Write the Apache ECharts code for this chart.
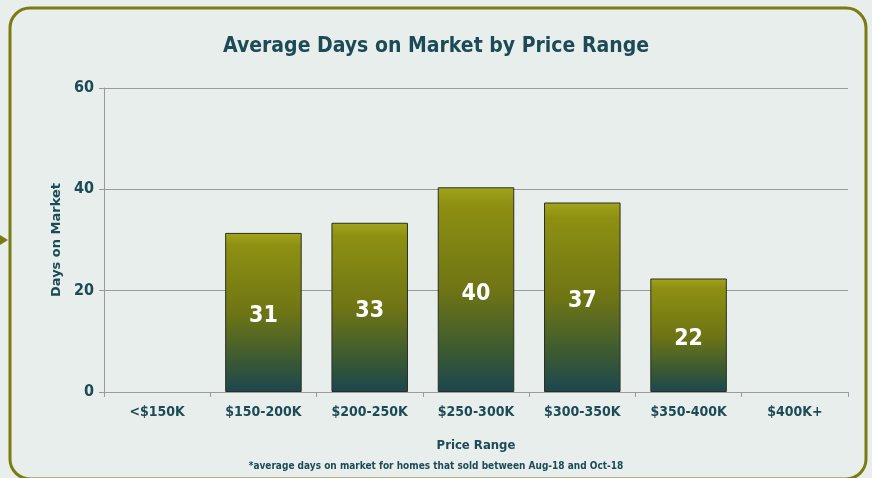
<!DOCTYPE html>
<html>
<head>
<meta charset="utf-8">
<script src="https://cdn.jsdelivr.net/npm/echarts@6/dist/echarts.min.js"></script>
<style>
  html, body { margin: 0; padding: 0; background: #e8eeec; }
  #main { width: 872px; height: 478px; }
</style>
</head>
<body>
<div id="main"></div>
<script>
// price buckets and avg days on market
var categories = ['<$150K', '$150-200K', '$200-250K', '$250-300K', '$300-350K', '$350-400K', '$400K+'];
var daysOnMarket = [null, 31.4, 33.4, 40.4, 37.4, 22.4, null];
var yTicks = [0, 20, 40, 60];

var font = "'DejaVu Sans Condensed', 'Liberation Sans Narrow', sans-serif";
var teal = '#1c4a56';

var chart = echarts.init(document.getElementById('main'));

var option = {
    backgroundColor: '#e8eeec',
    animation: false,
    title: {
        text: 'Average Days on Market by Price Range',
        left: 'center',
        top: 31,
        textStyle: { fontFamily: font, fontSize: 21, fontWeight: 'bold', color: teal }
    },
    graphic: [
        {
            type: 'rect',
            shape: { x: 10, y: 8, width: 856, height: 471, r: 20 },
            style: { fill: 'transparent', stroke: '#7b7b12', lineWidth: 3 },
            z: -1
        },
        {
            type: 'polygon',
            shape: { points: [[0, 235], [8, 240], [0, 245]] },
            style: { fill: '#7b7b12' }
        },
        {
            type: 'text',
            left: 'center',
            top: 461,
            style: {
                text: '*average days on market for homes that sold between Aug-18 and Oct-18',
                fontFamily: font, fontSize: 10, fontWeight: 'bold', fill: teal
            }
        }
    ],
    grid: { left: 104, right: 24, top: 88, bottom: 86 },
    xAxis: {
        type: 'category',
        data: categories,
        name: 'Price Range',
        nameLocation: 'middle',
        nameGap: 47,
        nameTextStyle: { fontFamily: font, fontSize: 13, fontWeight: 'bold', color: teal },
        axisLine: { lineStyle: { color: '#9a9a9a' } },
        axisTick: { show: true, length: 5, lineStyle: { color: '#9a9a9a' } },
        axisLabel: { interval: 0, fontFamily: font, fontSize: 14, fontWeight: 'bold', color: teal, margin: 13 }
    },
    yAxis: {
        type: 'value',
        min: 0,
        max: 60,
        interval: 20,
        name: 'Days on Market',
        nameLocation: 'middle',
        nameGap: 37,
        nameTextStyle: { fontFamily: "'DejaVu Sans', sans-serif", fontSize: 13, fontWeight: 'bold', color: teal },
        axisLine: { show: true, lineStyle: { color: '#9a9a9a' } },
        axisTick: { show: true, length: 5, lineStyle: { color: '#9a9a9a' } },
        splitLine: { lineStyle: { color: '#9a9a9a' } },
        axisLabel: {
            fontFamily: font, fontSize: 16, fontWeight: 'bold', color: teal, margin: 10,
            formatter: function (v) { return yTicks.indexOf(v) >= 0 ? v : ''; }
        }
    },
    series: [{
        type: 'bar',
        data: daysOnMarket,
        barWidth: '72%',
        itemStyle: {
            borderColor: '#2b2f22',
            borderWidth: 1,
            color: new echarts.graphic.LinearGradient(0, 0, 0, 1, [
                { offset: 0, color: '#a2a41c' },
                { offset: 0.08, color: '#8e9012' },
                { offset: 0.5, color: '#6f7514' },
                { offset: 0.8, color: '#3b5a32' },
                { offset: 1, color: '#1c4650' }
            ])
        },
        label: {
            show: true,
            position: 'inside',
            offset: [0, 4],
            fontFamily: font, fontSize: 23, fontWeight: 'bold', color: '#ffffff',
            formatter: function (p) { return Math.round(p.value); }
        }
    }]
};

chart.setOption(option);
</script>
</body>
</html>
